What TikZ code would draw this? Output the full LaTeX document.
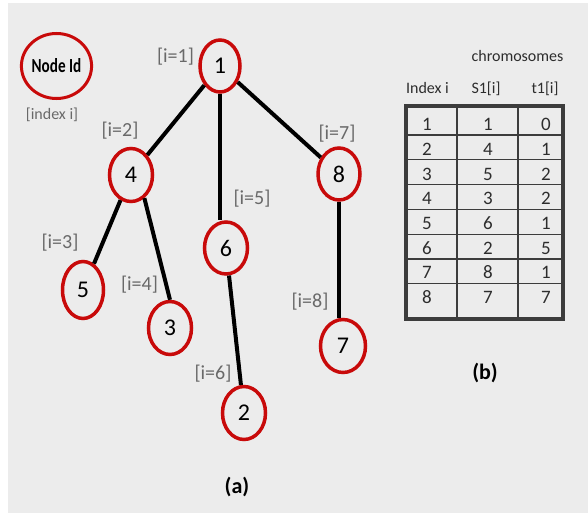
\documentclass[tikz,border=0pt]{standalone}
\usepackage{fontspec}
\setmainfont{Carlito}
\usetikzlibrary{shapes.geometric}
\definecolor{bgc}{RGB}{236,236,236}
\definecolor{ringred}{RGB}{200,10,10}
\definecolor{lblgray}{RGB}{105,105,105}
\definecolor{tabc}{RGB}{45,45,45}
\definecolor{framec}{RGB}{60,60,60}
\begin{document}
\begin{tikzpicture}[x=1pt,y=-1pt,
  tnode/.style={ellipse,draw=ringred,line width=3.5pt,inner sep=0pt,minimum width=42pt,minimum height=52pt,font=\fontsize{24}{28}\selectfont,text=black},
  idx/.style={font=\fontsize{20}{24}\selectfont,text=lblgray,inner sep=0pt},
  link/.style={line width=4pt,black},
  cell/.style={anchor=base,font=\fontsize{19}{21}\selectfont,text=tabc,inner sep=0pt},
  hdr/.style={anchor=base,font=\fontsize{16}{19}\selectfont,text=tabc,inner sep=0pt},
  captxt/.style={font=\bfseries\fontsize{22}{26}\selectfont,text=black,inner sep=0pt}]
\useasboundingbox (0,0) rectangle (588,513);
\fill[bgc] (8,3) rectangle (588,513);

% legend
\node[ellipse,draw=ringred,line width=3pt,inner sep=0pt,minimum width=60pt,minimum height=65pt,
  font=\bfseries\fontsize{19}{21}\selectfont] (leg) at (56.5,66) {\scalebox{0.8}[1.05]{Node Id}};
\node[font=\fontsize{16}{19}\selectfont,text=lblgray,inner sep=0pt] (legidx) at (52,115) {[index i]};

% tree nodes
\node[tnode,minimum width=40pt] (n1) at (220,66) {1};
\node[tnode,minimum width=43pt,minimum height=53pt] (n4) at (131,175) {4};
\node[tnode,minimum width=43pt] (n6) at (226,248) {6};
\node[tnode] (n8) at (339,174) {8};
\node[tnode,minimum width=41pt,minimum height=57pt] (n5) at (83,290) {5};
\node[tnode,minimum width=43pt,minimum height=53pt] (n3) at (170,328) {3};
\node[tnode,minimum width=43pt,minimum height=53pt] (n2) at (244,413) {2};
\node[tnode,minimum width=45pt,minimum height=53pt] (n7) at (343,346) {7};

% index labels
\node[idx] (l1) at (175.5,57) {[i=1]};
\node[idx] (l2) at (120,131) {[i=2]};
\node[idx] (l5) at (252,199) {[i=5]};
\node[idx] (l7) at (337,134) {[i=7]};
\node[idx] (l3) at (60,243) {[i=3]};
\node[idx] (l4) at (139.5,285) {[i=4]};
\node[idx] (l6) at (213,374) {[i=6]};
\node[idx] (l8) at (310,302) {[i=8]};

% edges
\draw[link] (n1) -- (n4);
\draw[link] (n1) -- (n1 |- n6.north);
\draw[link] (n1) -- (n8);
\draw[link] (n4) -- (n5);
\draw[link] (n4.300) -- (n3.north);
\draw[link] (n6) -- (n2);
\draw[link] (n8) -- (n8 |- n7.north);

% captions
\node[captxt] (capa) at (237,486.5) {(a)};
\node[captxt] (capb) at (485,373) {(b)};

% table header
\node[hdr] (hchrom) at (517.5,62) {chromosomes};
\node[hdr] (hidx) at (427.5,94) {Index i};
\node[hdr] (hs) at (486,94) {S1[i]};
\node[hdr] (ht) at (545,94) {t1[i]};

% table grid
\foreach \k in {0,...,6} {
  \draw[framec,line width=1.2pt] (406,135+24.8*\k) -- (563,135+24.8*\k);
}
\draw[framec,line width=1.2pt] (457,106) -- (457,319);
\draw[framec,line width=1.2pt] (518,106) -- (518,319);
\draw[framec,line width=4pt] (406,106) rectangle (563,319);

% table cells
\foreach \ra/\rb/\rc [count=\k from 0] in {1/1/0,2/4/1,3/5/2,4/3/2,5/6/1,6/2/5,7/8/1,8/7/7} {
  \node[cell] at (427,131+24.6*\k) {\ra};
  \node[cell] at (488,131+24.6*\k) {\rb};
  \node[cell] at (546,131+24.6*\k) {\rc};
}
\end{tikzpicture}
\end{document}
